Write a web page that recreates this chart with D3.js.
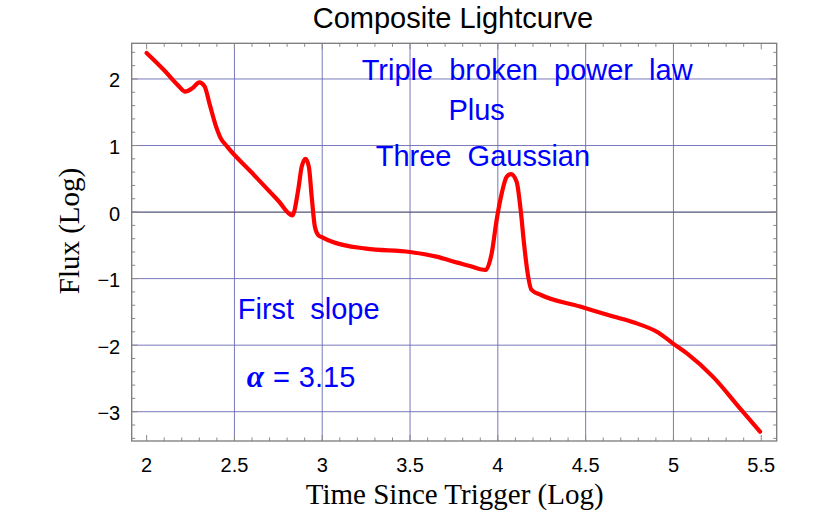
<!DOCTYPE html>
<html>
<head>
<meta charset="utf-8">
<script src="https://cdn.jsdelivr.net/npm/d3@7"></script>
<style>
  body { margin: 0; background: #fff; }
  text { font-family: "Liberation Sans", Arial, sans-serif; }
</style>
</head>
<body>
<div id="chart"></div>
<script>
// log time since trigger / log flux
var timeLog = [2.00, 2.10, 2.18, 2.22, 2.26, 2.30, 2.33, 2.36, 2.39, 2.42, 2.46, 2.60, 2.75, 2.83,
  2.863, 2.883, 2.905, 2.924, 2.94, 2.958, 2.977, 3.00, 3.06, 3.25, 3.50, 3.65, 3.77, 3.841, 3.90, 3.93,
  3.965, 3.993, 4.022, 4.05, 4.075, 4.107, 4.13, 4.149, 4.167, 4.192, 4.249, 4.468, 4.657, 4.771, 4.913,
  5.00, 5.075, 5.227, 5.379, 5.493];
var fluxLog = [2.39, 2.13, 1.90, 1.81, 1.86, 1.95, 1.89, 1.61, 1.33, 1.12, 0.98, 0.59, 0.17, -0.05,
  0.33, 0.68, 0.80, 0.68, 0.23, -0.22, -0.345, -0.38, -0.45, -0.55, -0.60, -0.67, -0.76, -0.81, -0.86, -0.87,
  -0.62, -0.12, 0.28, 0.53, 0.57, 0.455, 0.03, -0.47, -0.87, -1.17, -1.25, -1.42, -1.57, -1.656, -1.81,
  -1.98, -2.12, -2.48, -2.95, -3.30];

var xTicks = [2, 2.5, 3, 3.5, 4, 4.5, 5, 5.5];
var yTicks = [-3, -2, -1, 0, 1, 2];
var xGrid = [2.5, 3, 3.5, 4, 4.5, 5];
var yGrid = [-3, -2, -1, 0, 1, 2];

var noteText = ["Triple  broken  power  law", "Plus", "Three  Gaussian", "First  slope"];
var noteX = [4.167, 3.879, 3.915, 2.923];
var noteY = [1.982, 1.381, 0.69, -1.611];
var slopeValue = "3.15";

var width = 830, height = 513;
var pL = 131.7, pR = 776.7, pT = 43.3, pB = 441;

var x = d3.scaleLinear().domain([1.915, 5.588]).range([pL, pR]);
var y = d3.scaleLinear().domain([-3.44, 2.536]).range([pB, pT]);

var svg = d3.select("#chart").append("svg")
  .attr("width", width).attr("height", height);

// grid
svg.append("g").selectAll("line").data(xGrid).enter().append("line")
  .attr("x1", function(d) { return x(d); }).attr("x2", function(d) { return x(d); })
  .attr("y1", pT).attr("y2", pB)
  .attr("stroke", "#6a6ab6").attr("stroke-width", 0.9);
svg.append("g").selectAll("line").data(yGrid).enter().append("line")
  .attr("x1", pL).attr("x2", pR)
  .attr("y1", function(d) { return y(d); }).attr("y2", function(d) { return y(d); })
  .attr("stroke", function(d) { return d === 0 ? "#55557a" : "#6a6ab6"; })
  .attr("stroke-width", function(d) { return d === 0 ? 1.2 : 0.9; });

// frame ticks (inside, all four sides)
var xMinor = d3.range(20, 56).map(function(i) { return i / 10; });
var yMinor = d3.range(-17, 13).map(function(i) { return i / 5; });
function isMajor(v) { return Math.abs(v * 2 - Math.round(v * 2)) < 1e-6; }
function isMajorY(v) { return Math.abs(v - Math.round(v)) < 1e-6; }
var tk = svg.append("g").attr("stroke", "#8a8a8a").attr("stroke-width", 1);
xMinor.forEach(function(v) {
  var len = isMajor(v) ? 6 : 3.5;
  tk.append("line").attr("x1", x(v)).attr("x2", x(v)).attr("y1", pB).attr("y2", pB - len);
  tk.append("line").attr("x1", x(v)).attr("x2", x(v)).attr("y1", pT).attr("y2", pT + len);
});
yMinor.forEach(function(v) {
  var len = isMajorY(v) ? 6 : 3.5;
  tk.append("line").attr("y1", y(v)).attr("y2", y(v)).attr("x1", pL).attr("x2", pL + len);
  tk.append("line").attr("y1", y(v)).attr("y2", y(v)).attr("x1", pR).attr("x2", pR - len);
});

svg.append("rect").attr("x", pL).attr("y", pT)
  .attr("width", pR - pL).attr("height", pB - pT)
  .attr("fill", "none").attr("stroke", "#7a7a7a").attr("stroke-width", 1.3);

// tick labels
var fmt = d3.format("");
svg.append("g").selectAll("text").data(xTicks).enter().append("text")
  .attr("x", function(d) { return x(d); }).attr("y", 471.5)
  .attr("text-anchor", "middle").attr("font-size", 20)
  .text(function(d) { return fmt(d); });
svg.append("g").selectAll("text").data(yTicks).enter().append("text")
  .attr("x", pL - 11.5).attr("y", function(d) { return y(d) + 8.5; })
  .attr("text-anchor", "end").attr("font-size", 20)
  .text(function(d) { return fmt(d); });

// curve
var pts = timeLog.map(function(t, i) { return [t, fluxLog[i]]; });
var line = d3.line()
  .x(function(d) { return x(d[0]); })
  .y(function(d) { return y(d[1]); })
  .curve(d3.curveMonotoneX);
svg.append("path").datum(pts)
  .attr("d", line)
  .attr("fill", "none").attr("stroke", "#ff0000")
  .attr("stroke-width", 4.2).attr("stroke-linejoin", "round").attr("stroke-linecap", "round");

// annotations
svg.append("g").selectAll("text").data(noteText).enter().append("text")
  .attr("x", function(d, i) { return x(noteX[i]); })
  .attr("y", function(d, i) { return y(noteY[i]); })
  .attr("text-anchor", "middle").attr("font-size", 29)
  .attr("fill", "#0000ff")
  .style("white-space", "pre")
  .text(function(d) { return d; });

var alpha = svg.append("text")
  .attr("x", x(2.57)).attr("y", y(-2.623))
  .attr("font-size", 29).attr("fill", "#0000ff")
  .style("white-space", "pre");
alpha.append("tspan").attr("font-family", "'Liberation Serif', serif")
  .attr("font-style", "italic").attr("font-weight", "bold").attr("font-size", 31).text("α");
alpha.append("tspan").attr("dx", 9).text("=");
alpha.append("tspan").attr("dx", 9).text(slopeValue);

// titles
svg.append("text").attr("x", 453).attr("y", 27.5)
  .attr("text-anchor", "middle").attr("font-size", 29).text("Composite Lightcurve");
svg.append("text").attr("x", (pL + pR) / 2 + 0.5).attr("y", 504)
  .attr("text-anchor", "middle").attr("font-size", 29)
  .style("font-family", "'Liberation Serif', 'Times New Roman', serif")
  .text("Time Since Trigger (Log)");
svg.append("text").attr("transform", "translate(79,231) rotate(-90)")
  .attr("text-anchor", "middle").attr("font-size", 29)
  .style("font-family", "'Liberation Serif', 'Times New Roman', serif")
  .text("Flux (Log)");
</script>
</body>
</html>
